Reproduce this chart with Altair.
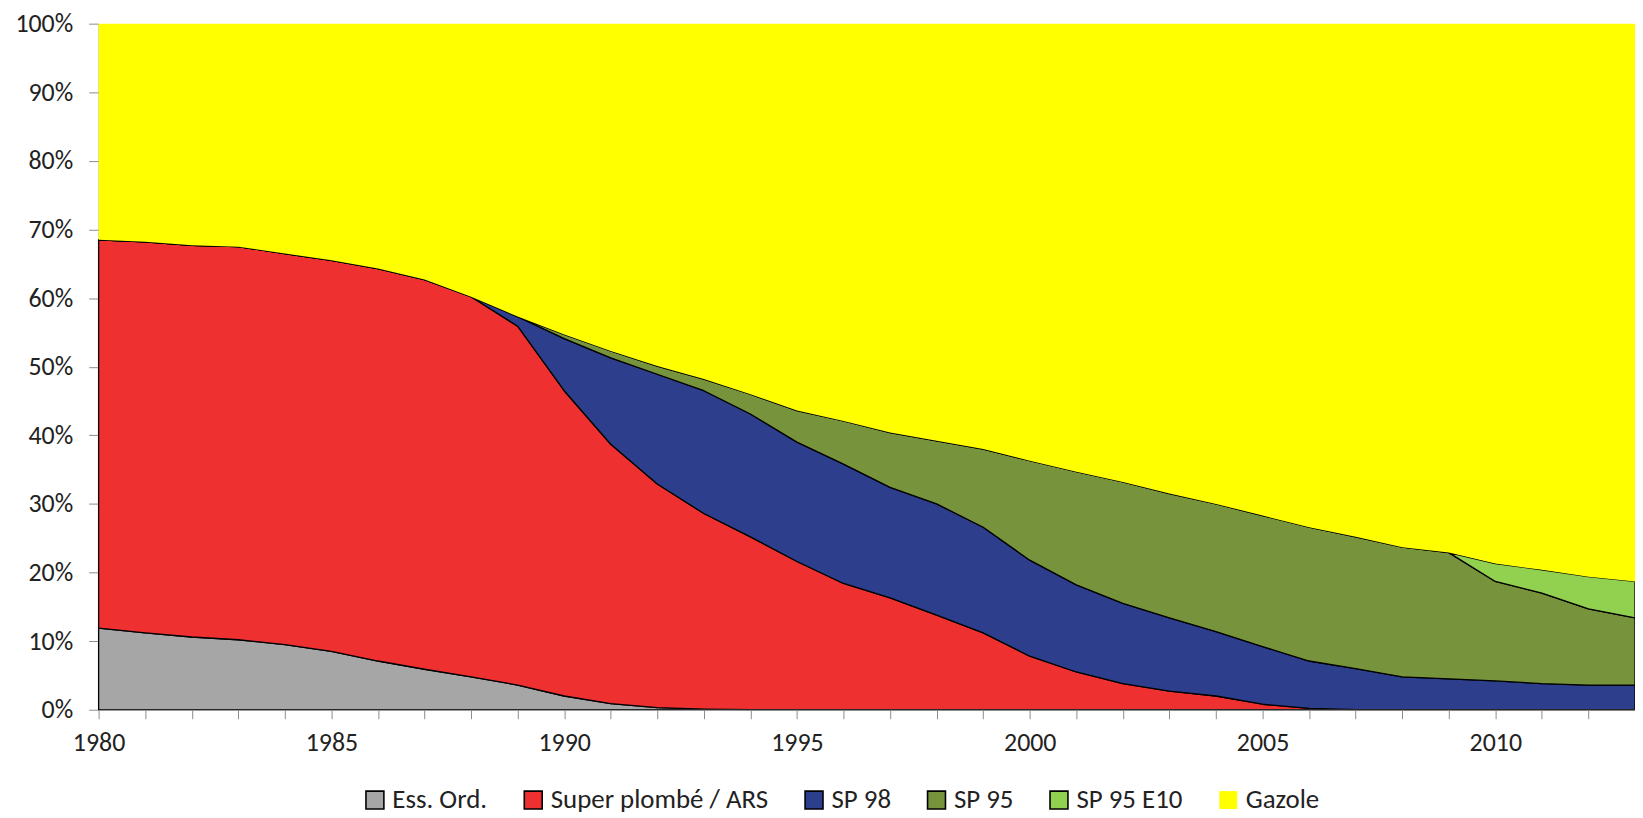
import altair as alt
import pandas as pd

years = list(range(1980, 2014))
series = ["Ess. Ord.", "Super plombé / ARS", "SP 98", "SP 95", "SP 95 E10", "Gazole"]
fill_colors = ["#A6A6A6", "#EE3030", "#2C3E8C", "#77933C", "#92D050", "#FFFF00"]
stroke_colors = ["#000000", "#000000", "#000000", "#000000", "#000000", "transparent"]

ess = [11.9, 11.2, 10.6, 10.2, 9.5, 8.5, 7.1, 5.9, 4.8, 3.6, 2.0, 0.9, 0.3, 0.1] + [0] * 20
super_ars = [56.6, 57.0, 57.1, 57.3, 57.0, 57.0, 57.2, 56.8, 55.4, 52.3, 44.5, 37.8, 32.6,
             28.5, 25.2, 21.6, 18.4, 16.3, 13.8, 11.2, 7.8, 5.5, 3.8, 2.7, 2.0, 0.8, 0.2] + [0] * 7
sp98 = [0] * 9 + [1.4, 7.6, 12.6, 16.0, 17.9, 17.9, 17.4, 17.4, 16.1, 16.2, 15.4, 14.0, 12.7,
                  11.7, 10.7, 9.4, 8.4, 6.9, 6.0, 4.8, 4.5, 4.2, 3.8, 3.6, 3.6]
sp95 = [0] * 10 + [0.6, 1.0, 1.2, 1.7, 2.9, 4.6, 6.3, 8.0, 9.2, 11.4, 14.5, 16.5, 17.7, 18.1,
                   18.6, 19.1, 19.5, 19.2, 18.9, 18.4, 14.5, 13.2, 11.1, 9.8]
e10 = [0] * 30 + [2.6, 3.4, 4.7, 5.3]
gazole = [31.5, 31.8, 32.3, 32.5, 33.5, 34.5, 35.7, 37.3, 39.8, 42.7, 45.3, 47.7, 49.9, 51.8,
          54.0, 56.4, 57.9, 59.6, 60.8, 62.0, 63.7, 65.3, 66.8, 68.5, 70.0, 71.7, 73.4, 74.8,
          76.3, 77.1, 78.7, 79.6, 80.6, 81.3]

all_values = [ess, super_ars, sp98, sp95, e10, gazole]
rows = []
for i, (name, vals) in enumerate(zip(series, all_values)):
    for y, v in zip(years, vals):
        rows.append({"year": y, "series": name, "value": v, "idx": i})
df = pd.DataFrame(rows)

FONT = "Carlito, Calibri, Lato, sans-serif"

legend_opts = dict(title=None, orient="none", direction="horizontal",
                   legendX=264, legendY=766, columns=6,
                   symbolType="square", symbolSize=324,
                   symbolStrokeWidth=1.6, labelOffset=4,
                   columnPadding=32, labelLimit=500, padding=0)

chart = alt.Chart(df).mark_area(strokeWidth=1.3, strokeJoin="round").encode(
    x=alt.X("year:Q",
            scale=alt.Scale(domain=[1980, 2013], nice=False, zero=False),
            axis=alt.Axis(title=None, values=years, grid=False,
                          labelExpr="datum.value % 5 == 0 ? datum.value : ''",
                          labelFlush=False, labelOverlap=False,
                          tickSize=9, labelPadding=11, zindex=1,
                          domainColor="#8C8C8C", tickColor="#8C8C8C")),
    y=alt.Y("value:Q", stack="zero",
            scale=alt.Scale(domain=[0, 100], nice=False),
            axis=alt.Axis(title=None, values=list(range(0, 101, 10)), grid=False,
                          labelExpr="datum.value + '%'",
                          labelFlush=False, labelOverlap=False,
                          tickSize=10, labelPadding=16,
                          domainColor="#8C8C8C", tickColor="#8C8C8C")),
    fill=alt.Fill("series:N",
                  scale=alt.Scale(domain=series, range=fill_colors),
                  legend=alt.Legend(**legend_opts)),
    stroke=alt.Stroke("series:N",
                      scale=alt.Scale(domain=series, range=stroke_colors),
                      legend=alt.Legend(**legend_opts)),
    order=alt.Order("idx:Q", sort="ascending"),
).properties(
    width=1543,
    height=689,
    autosize=alt.AutoSizeParams(type="none"),
    padding={"left": 91, "top": 14, "right": 0, "bottom": 106},
).configure_view(
    stroke=None
).configure_axis(
    labelFont=FONT, labelFontSize=26, labelColor="#222222"
).configure_legend(
    labelFont=FONT, labelFontSize=27, labelColor="#222222"
)

chart.save("out.html", embed_options={"renderer": "svg", "actions": False})
